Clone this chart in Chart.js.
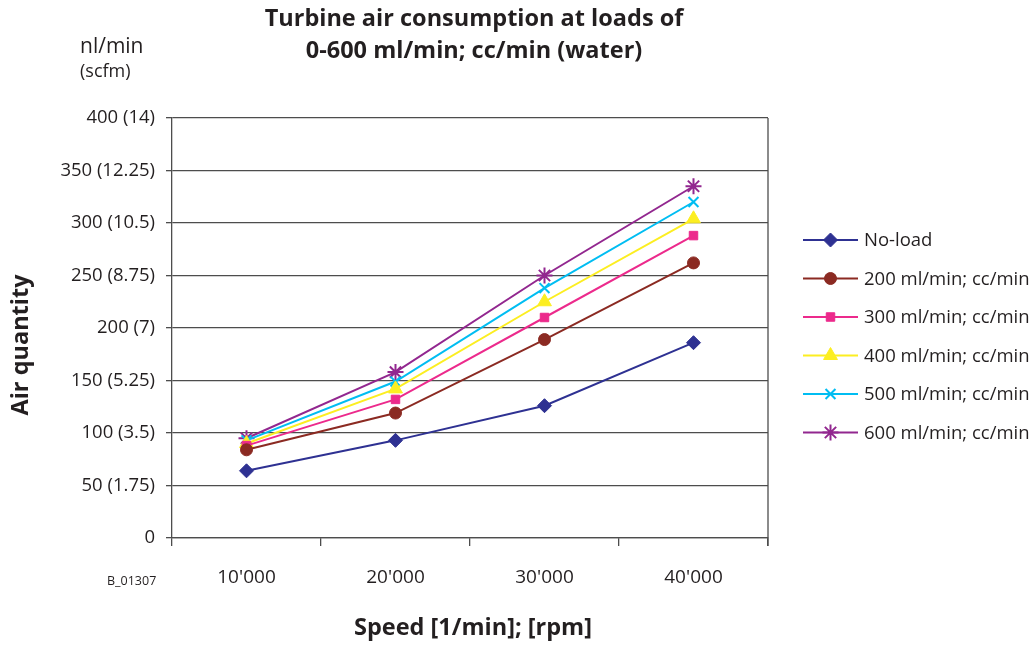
<!DOCTYPE html>
<html>
<head>
<meta charset="utf-8">
<script src="https://cdn.jsdelivr.net/npm/chart.js@4"></script>
<style>
  html, body { margin: 0; padding: 0; background: #fff; }
  #wrap { width: 1035px; height: 645px; position: relative; }
</style>
</head>
<body>
<div id="wrap"><canvas id="c" width="1035" height="645"></canvas></div>
<script>
const categories = ["10'000", "20'000", "30'000", "40'000"];
const seriesNames = ["No-load", "200 ml/min; cc/min", "300 ml/min; cc/min", "400 ml/min; cc/min", "500 ml/min; cc/min", "600 ml/min; cc/min"];
const noLoad = [64, 93, 126, 186];
const load200 = [84, 119, 189, 262];
const load300 = [88, 132, 210, 288];
const load400 = [90, 142, 225, 304];
const load500 = [93, 149, 238, 320];
const load600 = [95, 158, 250, 335];
const yTickValues = [0, 50, 100, 150, 200, 250, 300, 350, 400];
const yTickLabels = ["0", "50 (1.75)", "100 (3.5)", "150 (5.25)", "200 (7)", "250 (8.75)", "300 (10.5)", "350 (12.25)", "400 (14)"];
const titleLines = ["Turbine air consumption at loads of", "0-600 ml/min; cc/min (water)"];
const yUnitTop = "nl/min";
const yUnitBottom = "(scfm)";
const yTitle = "Air quantity";
const xTitle = "Speed [1/min]; [rpm]";
const codeLabel = "B_01307";

const colors = ["#2e3192", "#8b2a22", "#ec2a8c", "#fcee21", "#00bdf2", "#92278f"];
const pStyles = ["rectRot", "circle", "rect", "triangle", "crossRot", "star"];
const pRadius = [7, 6, 6, 8, 7, 8];
const allData = [noLoad, load200, load300, load400, load500, load600];

const FONT = "'Open Sans', 'Noto Sans', sans-serif";
const TXT = "#231f20";

const datasets = allData.map((d, i) => ({
  label: seriesNames[i],
  data: d,
  borderColor: colors[i],
  backgroundColor: colors[i],
  borderWidth: 2,
  pointStyle: pStyles[i],
  pointRadius: pRadius[i],
  pointBorderWidth: (pStyles[i] === 'crossRot' || pStyles[i] === 'star') ? 2 : 1,
  pointBorderColor: colors[i],
  pointBackgroundColor: colors[i],
  tension: 0,
  fill: false
}));

const decor = {
  id: 'decor',
  afterDraw(chart) {
    const ctx = chart.ctx;
    const a = chart.chartArea;
    ctx.save();
    // right border
    ctx.strokeStyle = '#4d4d4d';
    ctx.lineWidth = 1.3;
    ctx.beginPath();
    ctx.moveTo(a.right, a.top);
    ctx.lineTo(a.right, a.bottom + 8);
    ctx.stroke();
    // title
    ctx.fillStyle = TXT;
    ctx.textAlign = 'center';
    ctx.textBaseline = 'middle';
    ctx.font = "bold 23.5px " + FONT;
    ctx.fillText(titleLines[0], 474, 19);
    ctx.fillText(titleLines[1], 474, 51);
    // unit
    ctx.textAlign = 'left';
    ctx.font = "21px " + FONT;
    ctx.fillText(yUnitTop, 80, 47);
    ctx.font = "18px " + FONT;
    ctx.fillText(yUnitBottom, 80, 72);
    // code label
    ctx.font = "12.5px " + FONT;
    ctx.fillText(codeLabel, 107, 581);
    // axis titles
    ctx.textAlign = 'center';
    ctx.font = "bold 23.5px " + FONT;
    ctx.fillText(xTitle, 473, 628);
    ctx.save();
    ctx.translate(21, 345);
    ctx.rotate(-Math.PI / 2);
    ctx.fillText(yTitle, 0, 0);
    ctx.restore();
    // legend
    const lx0 = 803, lx1 = 858, tx = 864, ly0 = 240, dy = 38.5;
    chart.data.datasets.forEach((ds, i) => {
      const y = ly0 + i * dy;
      ctx.strokeStyle = ds.borderColor;
      ctx.lineWidth = 2;
      ctx.beginPath();
      ctx.moveTo(lx0, y);
      ctx.lineTo(lx1, y);
      ctx.stroke();
      ctx.fillStyle = ds.backgroundColor;
      ctx.lineWidth = ds.pointBorderWidth;
      Chart.helpers.drawPoint(ctx, { pointStyle: ds.pointStyle, radius: ds.pointRadius, borderWidth: ds.pointBorderWidth, rotation: 0 }, (lx0 + lx1) / 2, y);
      ctx.fillStyle = TXT;
      ctx.textAlign = 'left';
      ctx.textBaseline = 'middle';
      ctx.font = "18.5px " + FONT;
      ctx.fillText(ds.label, tx, y + 1);
    });
    ctx.restore();
  }
};

new Chart(document.getElementById('c'), {
  type: 'line',
  data: { labels: categories, datasets },
  options: {
    responsive: false,
    animation: false,
    devicePixelRatio: 1,
    layout: { padding: { top: 118, right: 267, bottom: 0, left: 0 } },
    plugins: { legend: { display: false }, title: { display: false }, tooltip: { enabled: false } },
    scales: {
      x: {
        type: 'category',
        offset: true,
        afterFit(s) { s.height = 107; },
        grid: { offset: true, drawOnChartArea: false, drawTicks: true, tickLength: 8, color: '#4d4d4d', lineWidth: 1.3 },
        border: { display: true, color: '#4d4d4d', width: 1.3 },
        ticks: { color: TXT, font: { family: FONT, size: 19 }, padding: 20 }
      },
      y: {
        min: 0, max: 400,
        afterFit(s) { s.width = 172; },
        afterBuildTicks(s) { s.ticks = yTickValues.map(v => ({ value: v })); },
        grid: { color: '#4d4d4d', lineWidth: 1.3, drawTicks: true, tickLength: 6 },
        border: { display: true, color: '#4d4d4d', width: 1.3 },
        ticks: {
          color: TXT, font: { family: FONT, size: 18.5 }, padding: 11,
          callback(v) { const k = yTickValues.indexOf(v); return k >= 0 ? yTickLabels[k] : ''; }
        }
      }
    }
  },
  plugins: [decor]
});
</script>
</body>
</html>
